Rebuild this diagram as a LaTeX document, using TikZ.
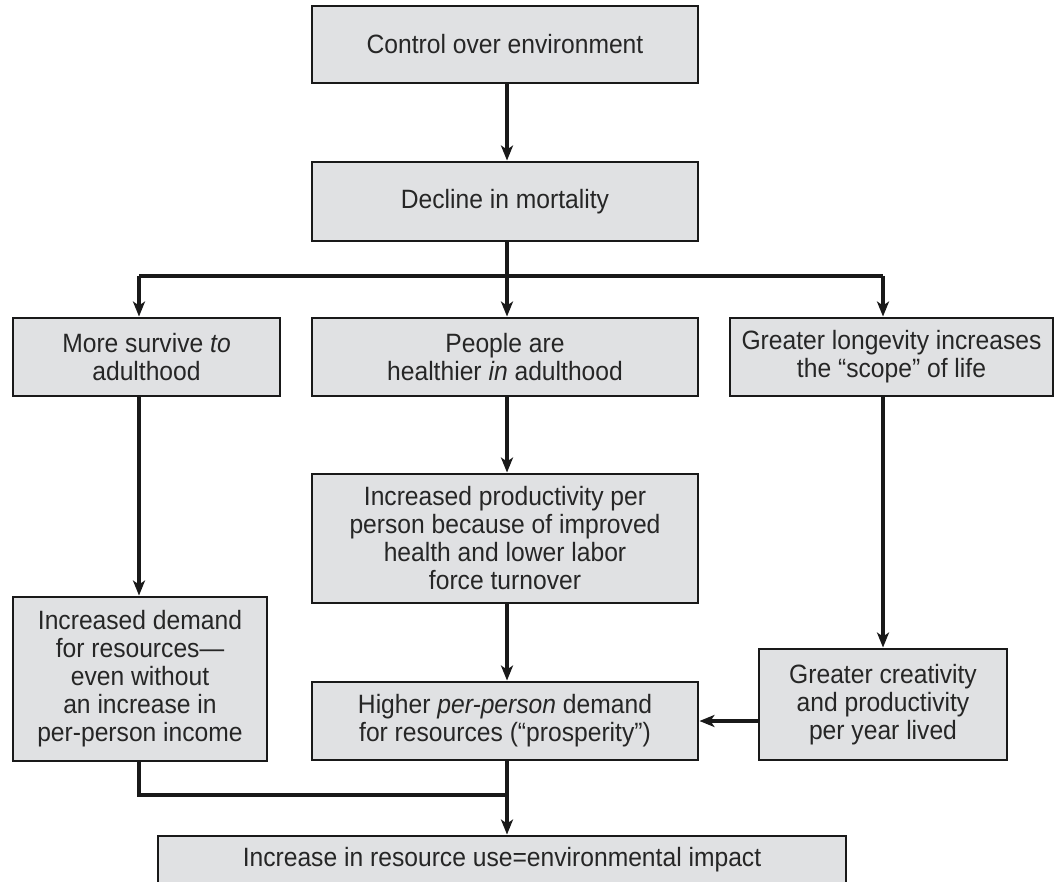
\documentclass[tikz,border=0pt]{standalone}
\usepackage{fontspec}
\setmainfont{Liberation Sans}[FakeStretch=0.93]
\usetikzlibrary{arrows.meta}
\definecolor{boxgray}{RGB}{224,225,227}
\tikzset{
  box/.style={draw=black!90, line width=2.9pt, fill=boxgray, align=center, inner sep=0pt,
    text=black!85, font=\fontsize{26.5}{28}\selectfont},
  link/.style={line width=3.05pt, draw=black!90},
  arr/.style={link, -{Stealth[length=15pt,width=12pt,inset=4pt]}}
}
\begin{document}
\begin{tikzpicture}[x=1pt,y=-1pt]
\useasboundingbox (0,0) rectangle (1055,882);
% boxes
\node[box, minimum width=386, minimum height=77] (A) at (505,44.5) {Control over environment};
\node[box, minimum width=386, minimum height=79] (B) at (505,201.5) {Decline in mortality};
\node[box, minimum width=267, minimum height=78] (C1) at (146.5,357) {More survive \textit{to}\\adulthood};
\node[box, minimum width=386, minimum height=78] (C2) at (505,357) {People are\\healthier \textit{in} adulthood};
\node[box, minimum width=323, minimum height=78] (C3) at (891.5,357) {Greater longevity increases\\the “scope” of life};
\node[box, minimum width=254, minimum height=164] (D1) at (140,679) {Increased demand\\for resources—\\even without\\an increase in\\per-person income};
\node[box, minimum width=386, minimum height=129] (D2) at (505,538.5) {Increased productivity per\\person because of improved\\health and lower labor\\force turnover};
\node[box, minimum width=248, minimum height=111] (D3) at (883,704.5) {Greater creativity\\and productivity\\per year lived};
\node[box, minimum width=386, minimum height=78] (E2) at (505,721) {Higher \textit{per-person} demand\\for resources (“prosperity”)};
\node[box, minimum width=688, minimum height=64, text height=20pt, text depth=23pt] (F) at (502,868) {Increase in resource use=environmental impact};
% connectors
\coordinate (jt) at (507,276);
\coordinate (cl) at (139,276);
\coordinate (cr) at (883,276);
\coordinate (jb) at (507,795);
\draw[arr] (A.south -| jt) -- (B.north -| jt);
\draw[link] (B.south -| jt) -- (jt);
\draw[link] (cl) -- (cr);
\draw[arr] (cl) -- (cl |- C1.north);
\draw[arr] (jt) -- (jt |- C2.north);
\draw[arr] (cr) -- (cr |- C3.north);
\draw[arr] (C1.south -| cl) -- (cl |- D1.north);
\draw[arr] (C2.south -| jt) -- (jt |- D2.north);
\draw[arr] (C3.south -| cr) -- (cr |- D3.north);
\draw[arr] (D2.south -| jt) -- (jt |- E2.north);
\draw[arr] (D3.west |- E2.center) -- (E2.east);
\draw[link] (D1.south -| cl) |- (jb);
\draw[arr] (E2.south -| jt) -- (jt |- F.north);
\end{tikzpicture}
\end{document}
